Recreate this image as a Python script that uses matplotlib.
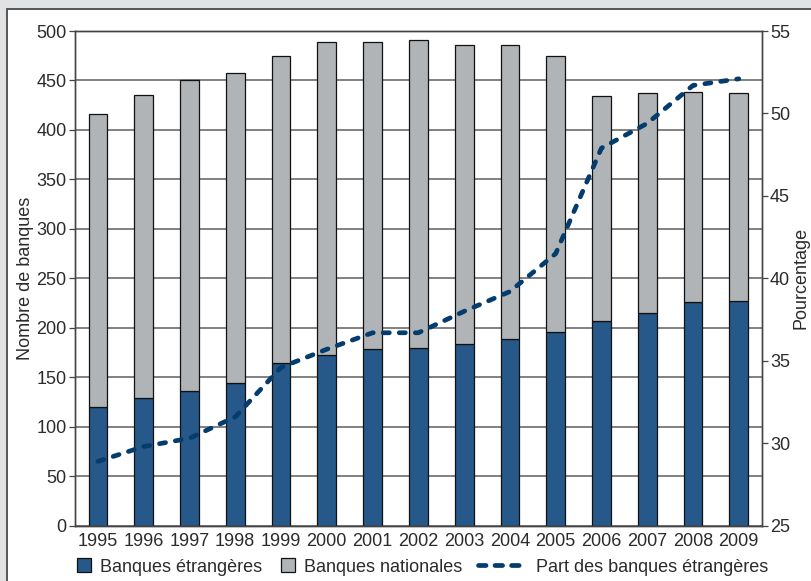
import matplotlib
matplotlib.use("Agg")
import matplotlib.pyplot as plt
from matplotlib.patches import Rectangle, Patch
from matplotlib.lines import Line2D

# Number of banks by year, split between foreign and domestic banks
years = ["1995", "1996", "1997", "1998", "1999", "2000", "2001", "2002",
         "2003", "2004", "2005", "2006", "2007", "2008", "2009"]
foreign_banks = [120, 129, 136, 144, 164, 173, 179, 180, 184, 189, 196, 207, 215, 226, 227]
national_banks = [296, 306, 314, 314, 311, 316, 310, 311, 302, 297, 279, 227, 222, 212, 210]
# Share of foreign banks (%)
foreign_share = [28.9, 29.8, 30.3, 31.6, 34.6, 35.7, 36.7, 36.7, 38.0, 39.2, 41.5, 47.9, 49.4, 51.7, 52.1]

left_ticks = list(range(0, 501, 50))
right_ticks = list(range(25, 56, 5))

blue = "#27588a"
grey = "#b1b4b7"
line_blue = "#053c6e"
text_col = "#2b2b2b"
grid_col = "#5f5f5f"
fs = 13

plt.rcParams["font.family"] = ["Liberation Sans", "DejaVu Sans"]

fig = plt.figure(figsize=(8.12, 5.81), dpi=100)
fig.patch.set_facecolor("#e1e2e4")

# White inner panel with a dark frame, drawn beneath the axes
panel = Rectangle((7 / 812, -0.05), 1.0, 0.05 + (581 - 9) / 581,
                  transform=fig.transFigure, facecolor="white",
                  edgecolor="#4a4a4a", linewidth=1.3, zorder=-10)
fig.patches.append(panel)

ax = fig.add_axes([75 / 812, (581 - 525.7) / 581, (761.7 - 75) / 812, (525.7 - 31) / 581])
ax.set_facecolor("white")
x = list(range(len(years)))
bw = 0.41
ax.bar(x, foreign_banks, width=bw, color=blue, edgecolor="#111111", linewidth=0.9, zorder=2)
ax.bar(x, national_banks, width=bw, bottom=foreign_banks, color=grey,
       edgecolor="#111111", linewidth=0.9, zorder=2)

ax.set_xlim(-0.5, len(years) - 0.5)
ax.set_ylim(0, 500)
ax.set_yticks(left_ticks)
ax.set_xticks(x)
ax.set_xticklabels(years)
ax.set_axisbelow(True)
ax.yaxis.grid(True, color=grid_col, linewidth=1.1)
ax.tick_params(axis="x", length=0, pad=5, labelsize=fs, labelcolor=text_col)
ax.tick_params(axis="y", length=4, width=0.9, color="#444444", pad=2,
               labelsize=fs, labelcolor=text_col)
for s in ax.spines.values():
    s.set_color("#444444")
    s.set_linewidth(1.0)
ax.set_ylabel("Nombre de banques", fontsize=fs, color=text_col, labelpad=2)

ax2 = ax.twinx()
ax2.plot(x, foreign_share, color=line_blue, linewidth=3.4,
         dashes=(1.3, 2.1), dash_capstyle="round", solid_capstyle="round", zorder=3)
ax2.set_ylim(25, 55)
ax2.set_yticks(right_ticks)
ax2.tick_params(axis="y", length=4, width=0.9, color="#444444", pad=2,
                labelsize=fs, labelcolor=text_col)
for s in ax2.spines.values():
    s.set_color("#444444")
    s.set_linewidth(1.0)
ax2.set_ylabel("Pourcentage", fontsize=fs, color=text_col, labelpad=2)

# Legend: two bar swatches and the dashed share line
bar_handles = [Patch(facecolor=blue, edgecolor="#111111", linewidth=0.9),
               Patch(facecolor=grey, edgecolor="#111111", linewidth=0.9)]
leg1 = fig.legend(bar_handles, ["Banques étrangères", "Banques nationales"],
                  loc="center left", bbox_to_anchor=(77 / 812, 14 / 581),
                  ncol=2, frameon=False, fontsize=fs, handlelength=0.8,
                  handleheight=0.8, handletextpad=0.5, columnspacing=1.0,
                  labelcolor=text_col, borderaxespad=0, borderpad=0)
line_handle = Line2D([], [], color=line_blue, linewidth=3.4, dashes=(1.6, 1.9),
                     dash_capstyle="round")
leg2 = fig.legend([line_handle], ["Part des banques étrangères"],
                  loc="center left", bbox_to_anchor=(478 / 812, 14 / 581),
                  frameon=False, fontsize=fs, handlelength=2.5,
                  handletextpad=0.7, labelcolor=text_col, borderaxespad=0, borderpad=0)

fig.savefig("out.png", dpi=100, facecolor=fig.get_facecolor())
